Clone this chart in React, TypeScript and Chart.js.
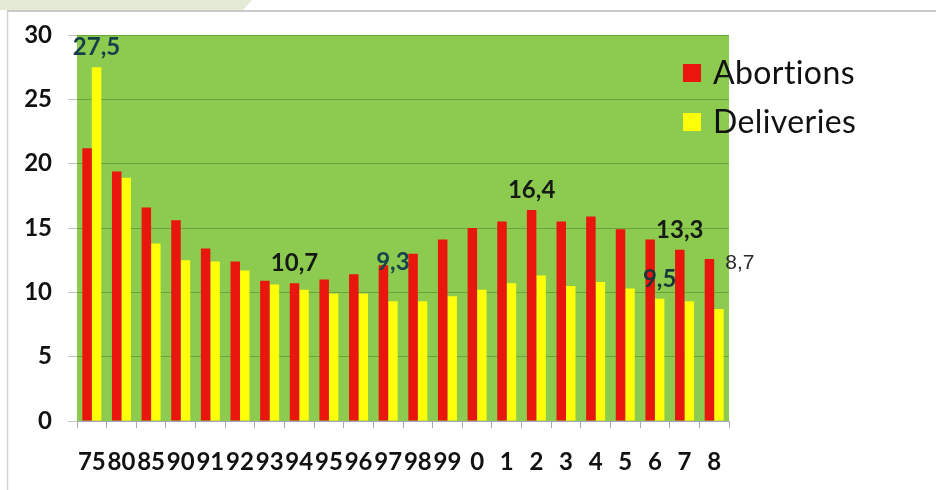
import React, { useEffect, useRef } from "react";
import { Chart, registerables } from "chart.js";

Chart.register(...registerables);

const categories = ["75", "80", "85", "90", "91", "92", "93", "94", "95", "96", "97", "98", "99", "0", "1", "2", "3", "4", "5", "6", "7", "8"];
const abortions = [21.2, 19.4, 16.6, 15.6, 13.4, 12.4, 10.9, 10.7, 11.0, 11.4, 12.1, 13.0, 14.1, 15.0, 15.5, 16.4, 15.5, 15.9, 14.9, 14.1, 13.3, 12.6];
const deliveries = [27.5, 18.9, 13.8, 12.5, 12.4, 11.7, 10.6, 10.2, 9.9, 9.9, 9.3, 9.3, 9.7, 10.2, 10.7, 11.3, 10.5, 10.8, 10.3, 9.5, 9.3, 8.7];
const seriesNames = ["Abortions", "Deliveries"];
const yTicks = [0, 5, 10, 15, 20, 25, 30];

// value labels: dataset index, category index, text
const valueLabels = [
  { ds: 1, idx: 0, text: "27,5" },
  { ds: 0, idx: 7, text: "10,7" },
  { ds: 1, idx: 10, text: "9,3" },
  { ds: 0, idx: 15, text: "16,4" },
  { ds: 0, idx: 20, text: "13,3" },
  { ds: 1, idx: 19, text: "9,5" },
  { ds: 1, idx: 21, text: "8,7" },
];

// styles for the labels (offsets in px, fonts, colours)
const labelStyles: Record<string, { dx: number; dy: number; font: string; color: string }> = {
  "27,5": { dx: 0, dy: -20, font: "bold 24px Lato", color: "#143f4a" },
  "10,7": { dx: 0, dy: -20, font: "bold 24px Lato", color: "#151a15" },
  "9,3": { dx: 0, dy: -39, font: "bold 24px Lato", color: "#17434c" },
  "16,4": { dx: 0, dy: -20, font: "bold 24px Lato", color: "#151a15" },
  "13,3": { dx: 0, dy: -20, font: "bold 24px Lato", color: "#151a15" },
  "9,5": { dx: 0, dy: -20, font: "bold 24px Lato", color: "#17363c" },
  "8,7": { dx: 21, dy: -46, font: "21px 'Liberation Sans'", color: "#2a2a2a" },
};

const RED = "#e8160c";
const YELLOW = "#ffff0a";
const GREEN = "#8ccb4f";

const frame = {
  id: "frame",
  beforeDraw(chart: any) {
    const ctx = chart.ctx;
    const { left, top, right, bottom } = chart.chartArea;
    ctx.save();
    ctx.fillStyle = "#ffffff";
    ctx.fillRect(0, 0, chart.width, chart.height);
    // light green strip at top-left
    ctx.fillStyle = "#e3ead5";
    ctx.beginPath();
    ctx.moveTo(0, 0);
    ctx.lineTo(252, 0);
    ctx.lineTo(243, 10);
    ctx.lineTo(0, 10);
    ctx.closePath();
    ctx.fill();
    // frame lines
    ctx.strokeStyle = "#c9c9c9";
    ctx.lineWidth = 2;
    ctx.beginPath();
    ctx.moveTo(7, 11);
    ctx.lineTo(936, 11);
    ctx.stroke();
    ctx.lineWidth = 1.5;
    ctx.strokeStyle = "#d4d4d4";
    ctx.beginPath();
    ctx.moveTo(7.5, 11);
    ctx.lineTo(7.5, 490);
    ctx.stroke();
    // plot background
    ctx.fillStyle = GREEN;
    ctx.fillRect(left, top, right - left, bottom - top);
    ctx.restore();
  },
};

const labelsPlugin = {
  id: "valueLabels",
  afterDatasetsDraw(chart: any) {
    const ctx = chart.ctx;
    ctx.save();
    ctx.textAlign = "center";
    ctx.textBaseline = "middle";
    valueLabels.forEach((l) => {
      const el = chart.getDatasetMeta(l.ds).data[l.idx];
      if (!el) return;
      const st = labelStyles[l.text];
      ctx.font = st.font;
      ctx.fillStyle = st.color;
      ctx.fillText(l.text, el.x + st.dx, el.y + st.dy);
    });
    ctx.restore();
  },
};

const legendPlugin = {
  id: "customLegend",
  afterDraw(chart: any) {
    const ctx = chart.ctx;
    const x0 = chart.chartArea.right - 46;
    const ys = [73, 122];
    ctx.save();
    ctx.textBaseline = "middle";
    ctx.textAlign = "left";
    ctx.font = "32px Lato";
    try {
      (ctx as any).letterSpacing = "0.4px";
    } catch (e) {}
    chart.data.datasets.forEach((ds: any, i: number) => {
      ctx.fillStyle = ds.backgroundColor;
      ctx.fillRect(x0, ys[i] - 9, 18, 18);
      ctx.fillStyle = "#111111";
      ctx.fillText(ds.label, x0 + 30, ys[i] + 1);
    });
    ctx.restore();
  },
};

export default function App() {
  const ref = useRef<HTMLCanvasElement>(null);

  useEffect(() => {
    document.body.style.margin = "0";
    const canvas = ref.current;
    if (!canvas) return;
    const chart = new Chart(canvas, {
      type: "bar",
      data: {
        labels: categories,
        datasets: [
          { label: seriesNames[0], data: abortions, backgroundColor: RED, borderWidth: 0, categoryPercentage: 0.64, barPercentage: 1.0 },
          { label: seriesNames[1], data: deliveries, backgroundColor: YELLOW, borderWidth: 0, categoryPercentage: 0.64, barPercentage: 1.0 },
        ],
      },
      options: {
        animation: false,
        responsive: false,
        maintainAspectRatio: false,
        layout: { padding: { left: 0, right: 207, top: 35, bottom: 0 } },
        plugins: {
          legend: { display: false },
          tooltip: { enabled: false },
        },
        scales: {
          x: {
            grid: {
              display: true,
              drawOnChartArea: false,
              drawTicks: true,
              tickLength: 7,
              tickColor: "#a9a9b5",
              offset: true,
            },
            border: { display: true, color: "#a9a3bb", width: 1 },
            ticks: {
              font: { family: "Lato", size: 24, weight: "bold" },
              color: "#111111",
              padding: 20,
              maxRotation: 0,
              autoSkip: false,
            },
            afterFit: (scale: any) => {
              scale.height = 69;
            },
          },
          y: {
            min: 0,
            max: 30,
            afterBuildTicks: (scale: any) => {
              scale.ticks = yTicks.map((v) => ({ value: v }));
            },
            grid: {
              color: "rgba(70,125,40,0.5)",
              tickColor: "#c2c2c2",
              tickLength: 9,
              lineWidth: 1,
            },
            border: { display: false },
            ticks: {
              font: { family: "Lato", size: 24, weight: "bold" },
              color: "#111111",
              padding: 16,
            },
            afterFit: (scale: any) => {
              scale.width = 77;
            },
          },
        },
      },
      plugins: [frame, labelsPlugin, legendPlugin],
    });
    return () => chart.destroy();
  }, []);

  return (
    <div style={{ width: 936, height: 490, position: "relative" }}>
      <canvas ref={ref} width={936} height={490} style={{ display: "block", width: 936, height: 490 }} />
    </div>
  );
}
